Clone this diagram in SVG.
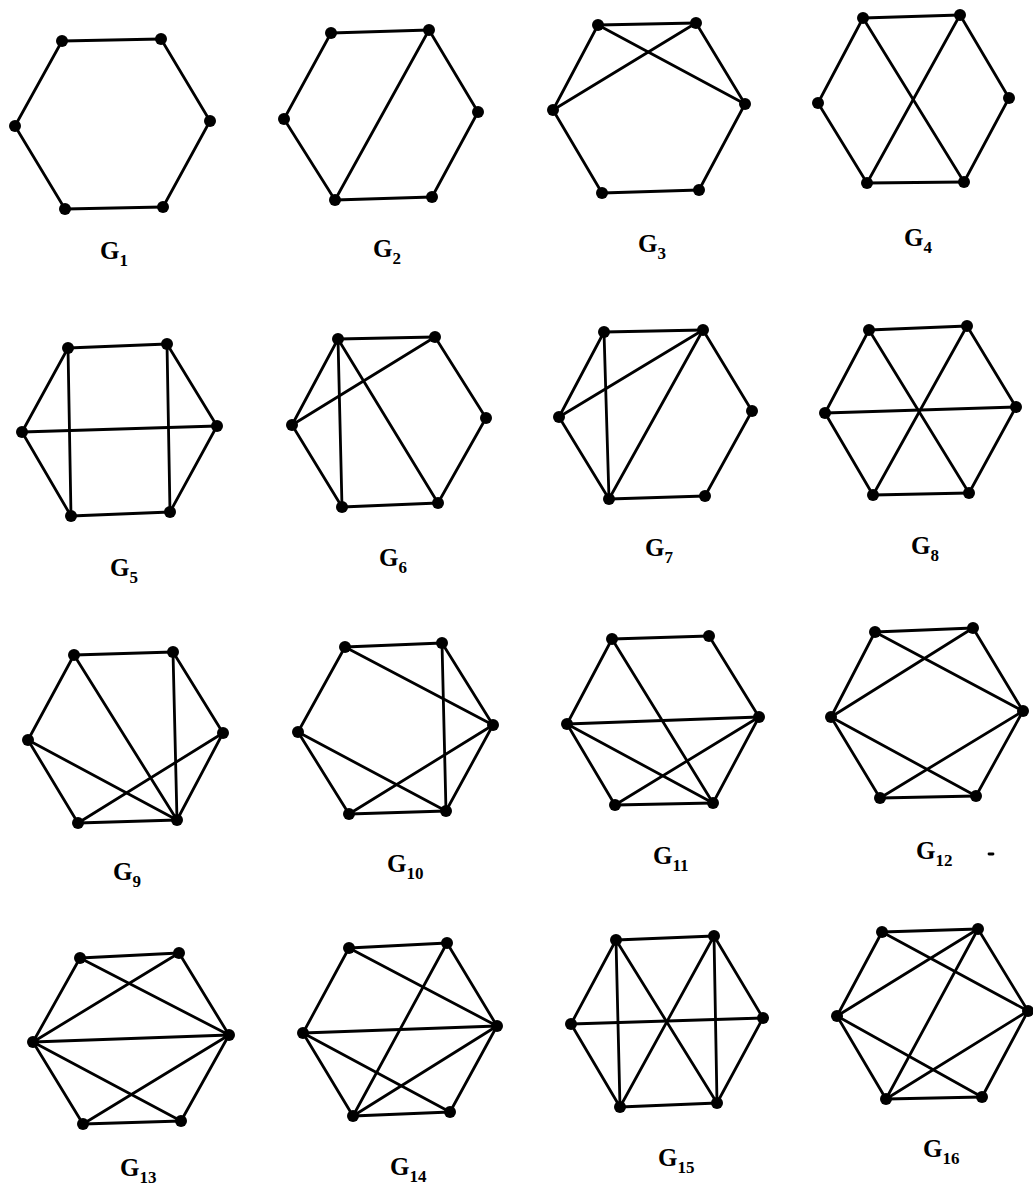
<svg xmlns="http://www.w3.org/2000/svg" width="1033" height="1189" viewBox="0 0 1033 1189">
<style>
.e line{stroke:#000;stroke-width:2.8;stroke-linecap:round}
.n circle{fill:#000}
.lbl{font-family:"Liberation Serif","DejaVu Serif",serif;font-size:25px;font-weight:bold;fill:#000}
.sub{font-size:17px}
</style>
<rect width="1033" height="1189" fill="#fff"/>
<g id="connectors" class="e">
<g id="G1-edges"><line x1="62" y1="41" x2="161" y2="39"/><line x1="161" y1="39" x2="210" y2="121"/><line x1="210" y1="121" x2="163" y2="207"/><line x1="163" y1="207" x2="65" y2="209"/><line x1="65" y1="209" x2="15" y2="126"/><line x1="15" y1="126" x2="62" y2="41"/></g>
<g id="G2-edges"><line x1="331" y1="33" x2="429" y2="30"/><line x1="429" y1="30" x2="478" y2="112"/><line x1="478" y1="112" x2="432" y2="197"/><line x1="432" y1="197" x2="335" y2="200"/><line x1="335" y1="200" x2="284" y2="119"/><line x1="284" y1="119" x2="331" y2="33"/><line x1="429" y1="30" x2="335" y2="200"/></g>
<g id="G3-edges"><line x1="598" y1="25" x2="696" y2="23"/><line x1="696" y1="23" x2="745" y2="104"/><line x1="745" y1="104" x2="699" y2="190"/><line x1="699" y1="190" x2="602" y2="193"/><line x1="602" y1="193" x2="553" y2="110"/><line x1="553" y1="110" x2="598" y2="25"/><line x1="598" y1="25" x2="745" y2="104"/><line x1="696" y1="23" x2="553" y2="110"/></g>
<g id="G4-edges"><line x1="863" y1="18" x2="960" y2="15"/><line x1="960" y1="15" x2="1009" y2="98"/><line x1="1009" y1="98" x2="964" y2="182"/><line x1="964" y1="182" x2="867" y2="183"/><line x1="867" y1="183" x2="818" y2="103"/><line x1="818" y1="103" x2="863" y2="18"/><line x1="863" y1="18" x2="964" y2="182"/><line x1="960" y1="15" x2="867" y2="183"/></g>
<g id="G5-edges"><line x1="68" y1="348" x2="167" y2="344"/><line x1="167" y1="344" x2="217" y2="426"/><line x1="217" y1="426" x2="170" y2="512"/><line x1="170" y1="512" x2="71" y2="516"/><line x1="71" y1="516" x2="22" y2="432"/><line x1="22" y1="432" x2="68" y2="348"/><line x1="68" y1="348" x2="71" y2="516"/><line x1="167" y1="344" x2="170" y2="512"/><line x1="22" y1="432" x2="217" y2="426"/></g>
<g id="G6-edges"><line x1="338" y1="339" x2="435" y2="337"/><line x1="435" y1="337" x2="486" y2="418"/><line x1="486" y1="418" x2="438" y2="503"/><line x1="438" y1="503" x2="342" y2="507"/><line x1="342" y1="507" x2="292" y2="425"/><line x1="292" y1="425" x2="338" y2="339"/><line x1="338" y1="339" x2="342" y2="507"/><line x1="338" y1="339" x2="438" y2="503"/><line x1="435" y1="337" x2="292" y2="425"/></g>
<g id="G7-edges"><line x1="604" y1="332" x2="703" y2="330"/><line x1="703" y1="330" x2="752" y2="411"/><line x1="752" y1="411" x2="705" y2="496"/><line x1="705" y1="496" x2="609" y2="499"/><line x1="609" y1="499" x2="559" y2="417"/><line x1="559" y1="417" x2="604" y2="332"/><line x1="604" y1="332" x2="609" y2="499"/><line x1="703" y1="330" x2="559" y2="417"/><line x1="703" y1="330" x2="609" y2="499"/></g>
<g id="G8-edges"><line x1="869" y1="330" x2="967" y2="326"/><line x1="967" y1="326" x2="1016" y2="407"/><line x1="1016" y1="407" x2="969" y2="493"/><line x1="969" y1="493" x2="873" y2="495"/><line x1="873" y1="495" x2="825" y2="413"/><line x1="825" y1="413" x2="869" y2="330"/><line x1="869" y1="330" x2="969" y2="493"/><line x1="967" y1="326" x2="873" y2="495"/><line x1="825" y1="413" x2="1016" y2="407"/></g>
<g id="G9-edges"><line x1="74" y1="655" x2="173" y2="652"/><line x1="173" y1="652" x2="223" y2="733"/><line x1="223" y1="733" x2="177" y2="820"/><line x1="177" y1="820" x2="78" y2="823"/><line x1="78" y1="823" x2="28" y2="740"/><line x1="28" y1="740" x2="74" y2="655"/><line x1="74" y1="655" x2="177" y2="820"/><line x1="173" y1="652" x2="177" y2="820"/><line x1="28" y1="740" x2="177" y2="820"/><line x1="223" y1="733" x2="78" y2="823"/></g>
<g id="G10-edges"><line x1="345" y1="647" x2="442" y2="643"/><line x1="442" y1="643" x2="493" y2="725"/><line x1="493" y1="725" x2="446" y2="811"/><line x1="446" y1="811" x2="349" y2="814"/><line x1="349" y1="814" x2="298" y2="732"/><line x1="298" y1="732" x2="345" y2="647"/><line x1="345" y1="647" x2="493" y2="725"/><line x1="442" y1="643" x2="446" y2="811"/><line x1="298" y1="732" x2="446" y2="811"/><line x1="493" y1="725" x2="349" y2="814"/></g>
<g id="G11-edges"><line x1="612" y1="639" x2="709" y2="636"/><line x1="709" y1="636" x2="759" y2="717"/><line x1="759" y1="717" x2="713" y2="803"/><line x1="713" y1="803" x2="615" y2="805"/><line x1="615" y1="805" x2="567" y2="724"/><line x1="567" y1="724" x2="612" y2="639"/><line x1="612" y1="639" x2="713" y2="803"/><line x1="567" y1="724" x2="759" y2="717"/><line x1="567" y1="724" x2="713" y2="803"/><line x1="759" y1="717" x2="615" y2="805"/></g>
<g id="G12-edges"><line x1="875" y1="632" x2="973" y2="628"/><line x1="973" y1="628" x2="1023" y2="711"/><line x1="1023" y1="711" x2="976" y2="796"/><line x1="976" y1="796" x2="880" y2="798"/><line x1="880" y1="798" x2="831" y2="717"/><line x1="831" y1="717" x2="875" y2="632"/><line x1="875" y1="632" x2="1023" y2="711"/><line x1="973" y1="628" x2="831" y2="717"/><line x1="831" y1="717" x2="976" y2="796"/><line x1="1023" y1="711" x2="880" y2="798"/></g>
<g id="G13-edges"><line x1="80" y1="958" x2="179" y2="953"/><line x1="179" y1="953" x2="229" y2="1035"/><line x1="229" y1="1035" x2="181" y2="1121"/><line x1="181" y1="1121" x2="83" y2="1124"/><line x1="83" y1="1124" x2="33" y2="1042"/><line x1="33" y1="1042" x2="80" y2="958"/><line x1="80" y1="958" x2="229" y2="1035"/><line x1="179" y1="953" x2="33" y2="1042"/><line x1="33" y1="1042" x2="229" y2="1035"/><line x1="33" y1="1042" x2="181" y2="1121"/><line x1="229" y1="1035" x2="83" y2="1124"/></g>
<g id="G14-edges"><line x1="349" y1="948" x2="447" y2="943"/><line x1="447" y1="943" x2="497" y2="1026"/><line x1="497" y1="1026" x2="450" y2="1112"/><line x1="450" y1="1112" x2="353" y2="1116"/><line x1="353" y1="1116" x2="303" y2="1033"/><line x1="303" y1="1033" x2="349" y2="948"/><line x1="349" y1="948" x2="497" y2="1026"/><line x1="447" y1="943" x2="353" y2="1116"/><line x1="303" y1="1033" x2="497" y2="1026"/><line x1="303" y1="1033" x2="450" y2="1112"/><line x1="497" y1="1026" x2="353" y2="1116"/></g>
<g id="G15-edges"><line x1="616" y1="940" x2="714" y2="936"/><line x1="714" y1="936" x2="763" y2="1018"/><line x1="763" y1="1018" x2="717" y2="1103"/><line x1="717" y1="1103" x2="620" y2="1107"/><line x1="620" y1="1107" x2="571" y2="1024"/><line x1="571" y1="1024" x2="616" y2="940"/><line x1="616" y1="940" x2="620" y2="1107"/><line x1="714" y1="936" x2="717" y2="1103"/><line x1="616" y1="940" x2="717" y2="1103"/><line x1="714" y1="936" x2="620" y2="1107"/><line x1="571" y1="1024" x2="763" y2="1018"/></g>
<g id="G16-edges"><line x1="882" y1="932" x2="978" y2="929"/><line x1="978" y1="929" x2="1028" y2="1011"/><line x1="1028" y1="1011" x2="982" y2="1097"/><line x1="982" y1="1097" x2="886" y2="1099"/><line x1="886" y1="1099" x2="837" y2="1016"/><line x1="837" y1="1016" x2="882" y2="932"/><line x1="882" y1="932" x2="1028" y2="1011"/><line x1="978" y1="929" x2="837" y2="1016"/><line x1="978" y1="929" x2="886" y2="1099"/><line x1="837" y1="1016" x2="982" y2="1097"/><line x1="1028" y1="1011" x2="886" y2="1099"/></g>
<line x1="989" y1="854" x2="993" y2="854" stroke="#000" stroke-width="1.5"/>
</g>
<g id="nodes" class="n">
<g id="G1"><g id="G1-a"><circle cx="62" cy="41" r="6"/></g><g id="G1-b"><circle cx="161" cy="39" r="6"/></g><g id="G1-c"><circle cx="210" cy="121" r="6"/></g><g id="G1-d"><circle cx="163" cy="207" r="6"/></g><g id="G1-e"><circle cx="65" cy="209" r="6"/></g><g id="G1-f"><circle cx="15" cy="126" r="6"/></g></g>
<g id="G2"><g id="G2-a"><circle cx="331" cy="33" r="6"/></g><g id="G2-b"><circle cx="429" cy="30" r="6"/></g><g id="G2-c"><circle cx="478" cy="112" r="6"/></g><g id="G2-d"><circle cx="432" cy="197" r="6"/></g><g id="G2-e"><circle cx="335" cy="200" r="6"/></g><g id="G2-f"><circle cx="284" cy="119" r="6"/></g></g>
<g id="G3"><g id="G3-a"><circle cx="598" cy="25" r="6"/></g><g id="G3-b"><circle cx="696" cy="23" r="6"/></g><g id="G3-c"><circle cx="745" cy="104" r="6"/></g><g id="G3-d"><circle cx="699" cy="190" r="6"/></g><g id="G3-e"><circle cx="602" cy="193" r="6"/></g><g id="G3-f"><circle cx="553" cy="110" r="6"/></g></g>
<g id="G4"><g id="G4-a"><circle cx="863" cy="18" r="6"/></g><g id="G4-b"><circle cx="960" cy="15" r="6"/></g><g id="G4-c"><circle cx="1009" cy="98" r="6"/></g><g id="G4-d"><circle cx="964" cy="182" r="6"/></g><g id="G4-e"><circle cx="867" cy="183" r="6"/></g><g id="G4-f"><circle cx="818" cy="103" r="6"/></g></g>
<g id="G5"><g id="G5-a"><circle cx="68" cy="348" r="6"/></g><g id="G5-b"><circle cx="167" cy="344" r="6"/></g><g id="G5-c"><circle cx="217" cy="426" r="6"/></g><g id="G5-d"><circle cx="170" cy="512" r="6"/></g><g id="G5-e"><circle cx="71" cy="516" r="6"/></g><g id="G5-f"><circle cx="22" cy="432" r="6"/></g></g>
<g id="G6"><g id="G6-a"><circle cx="338" cy="339" r="6"/></g><g id="G6-b"><circle cx="435" cy="337" r="6"/></g><g id="G6-c"><circle cx="486" cy="418" r="6"/></g><g id="G6-d"><circle cx="438" cy="503" r="6"/></g><g id="G6-e"><circle cx="342" cy="507" r="6"/></g><g id="G6-f"><circle cx="292" cy="425" r="6"/></g></g>
<g id="G7"><g id="G7-a"><circle cx="604" cy="332" r="6"/></g><g id="G7-b"><circle cx="703" cy="330" r="6"/></g><g id="G7-c"><circle cx="752" cy="411" r="6"/></g><g id="G7-d"><circle cx="705" cy="496" r="6"/></g><g id="G7-e"><circle cx="609" cy="499" r="6"/></g><g id="G7-f"><circle cx="559" cy="417" r="6"/></g></g>
<g id="G8"><g id="G8-a"><circle cx="869" cy="330" r="6"/></g><g id="G8-b"><circle cx="967" cy="326" r="6"/></g><g id="G8-c"><circle cx="1016" cy="407" r="6"/></g><g id="G8-d"><circle cx="969" cy="493" r="6"/></g><g id="G8-e"><circle cx="873" cy="495" r="6"/></g><g id="G8-f"><circle cx="825" cy="413" r="6"/></g></g>
<g id="G9"><g id="G9-a"><circle cx="74" cy="655" r="6"/></g><g id="G9-b"><circle cx="173" cy="652" r="6"/></g><g id="G9-c"><circle cx="223" cy="733" r="6"/></g><g id="G9-d"><circle cx="177" cy="820" r="6"/></g><g id="G9-e"><circle cx="78" cy="823" r="6"/></g><g id="G9-f"><circle cx="28" cy="740" r="6"/></g></g>
<g id="G10"><g id="G10-a"><circle cx="345" cy="647" r="6"/></g><g id="G10-b"><circle cx="442" cy="643" r="6"/></g><g id="G10-c"><circle cx="493" cy="725" r="6"/></g><g id="G10-d"><circle cx="446" cy="811" r="6"/></g><g id="G10-e"><circle cx="349" cy="814" r="6"/></g><g id="G10-f"><circle cx="298" cy="732" r="6"/></g></g>
<g id="G11"><g id="G11-a"><circle cx="612" cy="639" r="6"/></g><g id="G11-b"><circle cx="709" cy="636" r="6"/></g><g id="G11-c"><circle cx="759" cy="717" r="6"/></g><g id="G11-d"><circle cx="713" cy="803" r="6"/></g><g id="G11-e"><circle cx="615" cy="805" r="6"/></g><g id="G11-f"><circle cx="567" cy="724" r="6"/></g></g>
<g id="G12"><g id="G12-a"><circle cx="875" cy="632" r="6"/></g><g id="G12-b"><circle cx="973" cy="628" r="6"/></g><g id="G12-c"><circle cx="1023" cy="711" r="6"/></g><g id="G12-d"><circle cx="976" cy="796" r="6"/></g><g id="G12-e"><circle cx="880" cy="798" r="6"/></g><g id="G12-f"><circle cx="831" cy="717" r="6"/></g></g>
<g id="G13"><g id="G13-a"><circle cx="80" cy="958" r="6"/></g><g id="G13-b"><circle cx="179" cy="953" r="6"/></g><g id="G13-c"><circle cx="229" cy="1035" r="6"/></g><g id="G13-d"><circle cx="181" cy="1121" r="6"/></g><g id="G13-e"><circle cx="83" cy="1124" r="6"/></g><g id="G13-f"><circle cx="33" cy="1042" r="6"/></g></g>
<g id="G14"><g id="G14-a"><circle cx="349" cy="948" r="6"/></g><g id="G14-b"><circle cx="447" cy="943" r="6"/></g><g id="G14-c"><circle cx="497" cy="1026" r="6"/></g><g id="G14-d"><circle cx="450" cy="1112" r="6"/></g><g id="G14-e"><circle cx="353" cy="1116" r="6"/></g><g id="G14-f"><circle cx="303" cy="1033" r="6"/></g></g>
<g id="G15"><g id="G15-a"><circle cx="616" cy="940" r="6"/></g><g id="G15-b"><circle cx="714" cy="936" r="6"/></g><g id="G15-c"><circle cx="763" cy="1018" r="6"/></g><g id="G15-d"><circle cx="717" cy="1103" r="6"/></g><g id="G15-e"><circle cx="620" cy="1107" r="6"/></g><g id="G15-f"><circle cx="571" cy="1024" r="6"/></g></g>
<g id="G16"><g id="G16-a"><circle cx="882" cy="932" r="6"/></g><g id="G16-b"><circle cx="978" cy="929" r="6"/></g><g id="G16-c"><circle cx="1028" cy="1011" r="6"/></g><g id="G16-d"><circle cx="982" cy="1097" r="6"/></g><g id="G16-e"><circle cx="886" cy="1099" r="6"/></g><g id="G16-f"><circle cx="837" cy="1016" r="6"/></g></g>
</g>
<g id="labels" class="lbl">
<text x="100" y="259">G<tspan class="sub" dy="7">1</tspan></text>
<text x="373" y="257">G<tspan class="sub" dy="7">2</tspan></text>
<text x="638" y="252">G<tspan class="sub" dy="7">3</tspan></text>
<text x="904" y="246">G<tspan class="sub" dy="7">4</tspan></text>
<text x="110" y="576">G<tspan class="sub" dy="7">5</tspan></text>
<text x="379" y="566">G<tspan class="sub" dy="7">6</tspan></text>
<text x="645" y="556">G<tspan class="sub" dy="7">7</tspan></text>
<text x="911" y="554">G<tspan class="sub" dy="7">8</tspan></text>
<text x="113" y="880">G<tspan class="sub" dy="7">9</tspan></text>
<text x="387" y="872">G<tspan class="sub" dy="7">10</tspan></text>
<text x="653" y="864">G<tspan class="sub" dy="7">11</tspan></text>
<text x="916" y="859">G<tspan class="sub" dy="7">12</tspan></text>
<text x="120" y="1176">G<tspan class="sub" dy="7">13</tspan></text>
<text x="390" y="1175">G<tspan class="sub" dy="7">14</tspan></text>
<text x="658" y="1166">G<tspan class="sub" dy="7">15</tspan></text>
<text x="923" y="1157">G<tspan class="sub" dy="7">16</tspan></text>
</g>
</svg>
